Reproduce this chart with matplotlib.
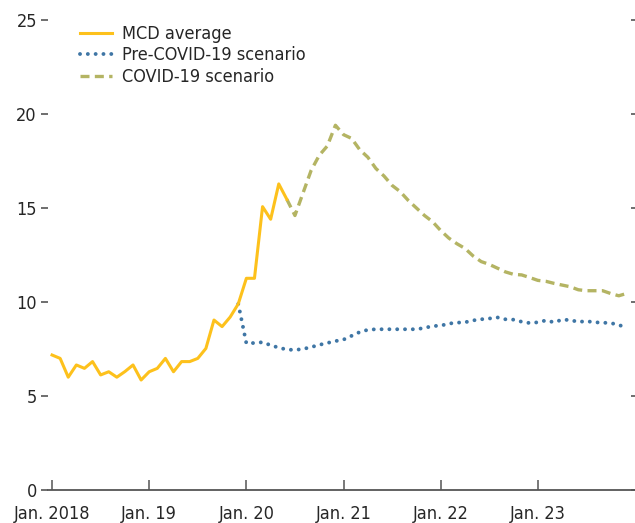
import matplotlib
matplotlib.use("Agg")
import matplotlib.pyplot as plt
from matplotlib.lines import TICKLEFT
import numpy as np

plt.rcParams['font.family'] = ['DejaVu Sans']
plt.rcParams['font.stretch'] = 'condensed'

### DATA ###
# monthly, index 0 = Jan. 2018
mcd_average = [7.18, 7.0, 6.0, 6.65, 6.47, 6.83, 6.12, 6.29, 6.0, 6.3, 6.65, 5.85,
               6.29, 6.47, 7.0, 6.29, 6.83, 6.83, 7.0, 7.53, 9.04, 8.69, 9.2, 9.9,
               11.26, 11.26, 15.07, 14.4, 16.28, 15.46]
pre_covid = [9.9, 7.8, 7.82, 7.86, 7.7, 7.57, 7.47, 7.45, 7.5, 7.6, 7.72, 7.82,
             7.92, 8.0, 8.2, 8.4, 8.52, 8.55, 8.55, 8.55, 8.55, 8.55, 8.55, 8.62,
             8.72, 8.74, 8.85, 8.9, 8.92, 9.02, 9.08, 9.12, 9.18, 9.08, 9.06, 8.95,
             8.88, 8.92, 9.02, 8.92, 9.06, 9.04, 8.94, 8.98, 8.92, 8.9, 8.88, 8.78,
             8.62]
covid = [15.46, 14.6, 15.8, 17.0, 17.8, 18.3, 19.4, 18.9, 18.7, 18.1, 17.7, 17.1,
         16.7, 16.2, 15.87, 15.4, 15.0, 14.6, 14.27, 13.8, 13.4, 13.1, 12.85, 12.45,
         12.15, 12.0, 11.8, 11.6, 11.47, 11.44, 11.3, 11.15, 11.1, 10.99, 10.9, 10.81,
         10.65, 10.6, 10.6, 10.6, 10.45, 10.33, 10.46]
pre_covid_start = 23
covid_start = 29

tick_months = [0, 12, 24, 36, 48, 60]
tick_labels = ["Jan. 2018", "Jan. 19", "Jan. 20", "Jan. 21", "Jan. 22", "Jan. 23"]

### COLORS ###
yellow = "#FDC11C"
blue = "#3F76A5"
olive = "#B4B463"
text_c = "#262626"
axis_c = "#555555"

if __name__ == "__main__":

    fig = plt.figure(figsize=(6.35, 5.23), dpi=100)
    ax = fig.add_axes([0.0756, 0.0631, 0.9244, 0.8987])

    x_mcd = np.arange(len(mcd_average))
    x_pre = np.arange(pre_covid_start, pre_covid_start + len(pre_covid))
    x_cov = np.arange(covid_start, covid_start + len(covid))

    ax.plot(x_mcd, mcd_average, color=yellow, lw=2.2, label="MCD average", zorder=3)
    ax.plot(x_pre, pre_covid, color=blue, lw=2.8, ls=(0, (0.01, 2.0)),
            dash_capstyle='round', label="Pre-COVID-19 scenario", zorder=2)
    ax.plot(x_cov, covid, color=olive, lw=2.4, ls=(0, (2.7, 1.6)),
            label="COVID-19 scenario", zorder=2)

    ax.set_xlim(-0.5, 72)
    ax.set_ylim(0, 25)
    ax.set_yticks([0, 5, 10, 15, 20, 25])
    ax.set_xticks(tick_months)
    ax.set_xticklabels(tick_labels)

    for s in ['top', 'left', 'right']:
        ax.spines[s].set_visible(False)
    ax.spines['bottom'].set_color(axis_c)
    ax.spines['bottom'].set_linewidth(1.3)

    ax.tick_params(axis='y', left=True, right=True, direction='out', length=5,
                   width=1.2, color=axis_c, labelsize=13, labelcolor=text_c, pad=3)
    ax.tick_params(axis='x', direction='in', length=7, width=1.1, color=axis_c,
                   labelsize=13, labelcolor=text_c, pad=11)
    # right-hand ticks point inwards
    for t in ax.yaxis.get_major_ticks():
        t.tick2line.set_marker(TICKLEFT)
        t.tick2line.set_markersize(3)

    leg = ax.legend(loc='upper left', bbox_to_anchor=(0.042, 1.005), frameon=False,
                    fontsize=13, handlelength=1.8, handletextpad=0.55,
                    labelspacing=0.2, borderaxespad=0)
    for t in leg.get_texts():
        t.set_color(text_c)

    fig.savefig("out.png", dpi=100)
